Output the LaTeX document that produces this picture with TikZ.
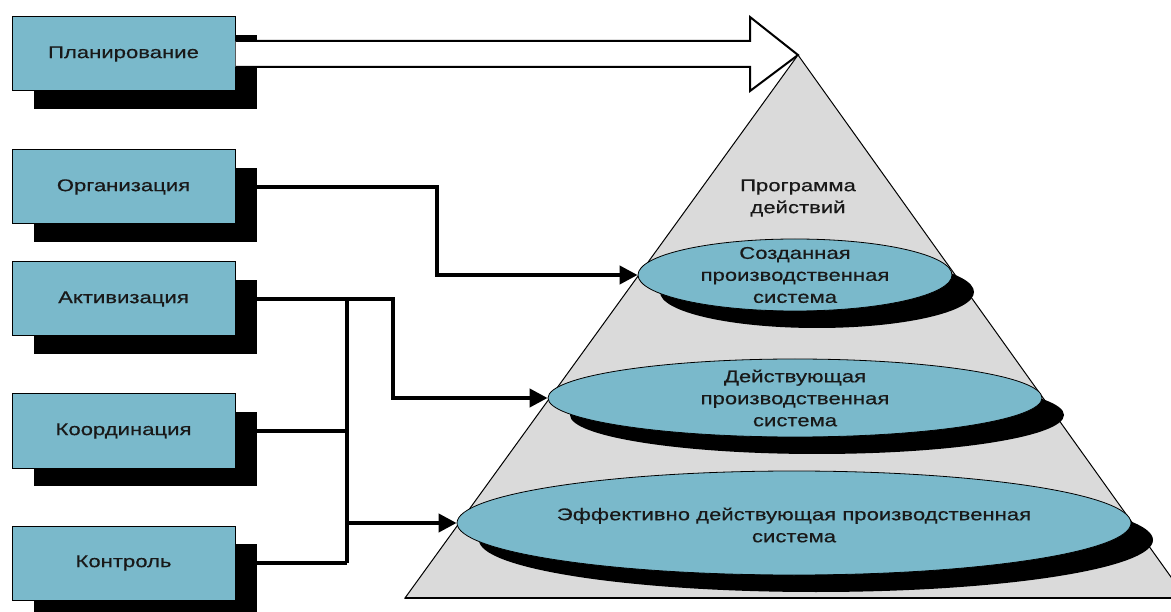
\documentclass[tikz,border=0pt]{standalone}
\usepackage{fontspec}
\setmainfont{Liberation Sans}[FakeStretch=1.3,FakeBold=0.5]
\usetikzlibrary{shapes.geometric,shadows,arrows.meta,calc}
\definecolor{boxblue}{RGB}{122,185,203}
\definecolor{pyrgray}{RGB}{218,218,218}
\definecolor{txt}{RGB}{25,25,25}
\begin{document}
\begin{tikzpicture}[x=1pt,y=-1pt,
  every node/.style={font=\fontsize{17}{22}\selectfont, text=txt},
  funcbox/.style={draw=black, line width=1pt, fill=boxblue, minimum width=223pt, minimum height=74pt, inner sep=0pt,
    drop shadow={shadow xshift=22pt, shadow yshift=-18pt, opacity=1, fill=black}},
  level/.style={ellipse, draw=black, line width=0.8pt, fill=boxblue, inner sep=0pt,
    drop shadow={shadow xshift=22pt, shadow yshift=-17pt, opacity=1, fill=black}},
  conn/.style={line width=4pt, black},
  arr/.style={conn, -{Triangle[length=18pt,width=18pt]}},
  lbl/.style={align=center, inner sep=0pt}
]
\useasboundingbox (0,0) rectangle (1171,612);

% boxes
\node[funcbox] (plan) at (123.5,54) {Планирование};
\node[funcbox] (org)  at (123.5,187) {Организация};
\node[funcbox] (act)  at (123.5,299) {Активизация};
\node[funcbox] (coord) at (123.5,431) {Координация};
\node[funcbox] (ctrl) at (123.5,563) {Контроль};

% hollow arrow
\coordinate (apex) at (798,55);
\draw[line width=2pt, fill=white, line join=miter]
  ($(plan.east)+(0,-13)$) -- (750,41) -- (750,17) -- (apex) -- (750,91) -- (750,67) -- ($(plan.east)+(0,13)$);

% pyramid
\draw[line width=1pt, fill=pyrgray] (apex) -- (405,598) -- (1186,598) -- cycle;
\draw[line width=2.5pt] (405,598) -- (1186,598);

\node[lbl] (prog) at (798,198) {Программа\\действий};

% levels
\node[level, minimum width=314pt, minimum height=72pt] (e1) at (795,275) {};
\node[level, minimum width=494pt, minimum height=78pt] (e2) at (795,398) {};
\node[level, minimum width=674pt, minimum height=104pt] (e3) at (794,523) {};
\node[lbl] (t1) at (e1) {Созданная\\производственная\\система};
\node[lbl] (t2) at (e2) {Действующая\\производственная\\система};
\node[lbl] (t3) at ($(e3)+(0,2)$) {Эффективно действующая производственная\\система};

% connectors
\coordinate (orgbend) at (437,0);
\draw[arr] (org.east) -| (orgbend |- e1.west) -- (e1.west);
\coordinate (actbend) at (393,0);
\draw[arr] (act.east) -| (actbend |- e2.west) -- (e2.west);
\coordinate (bus) at (347,0);
\draw[conn] (act.east -| bus) -- (ctrl.east -| bus);
\draw[conn] (coord.east) -- (coord.east -| bus);
\draw[conn] (ctrl.east) -- (ctrl.east -| bus);
\draw[arr] (bus |- e3.west) -- (e3.west);
\end{tikzpicture}
\end{document}
